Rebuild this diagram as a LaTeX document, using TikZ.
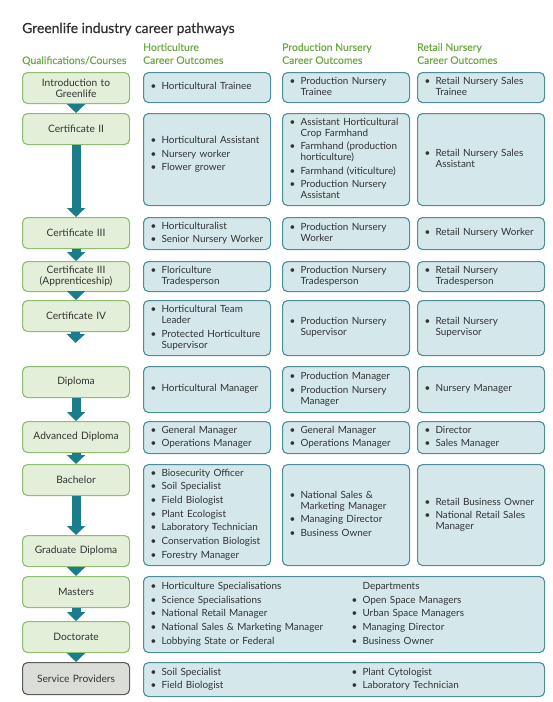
\documentclass[tikz,border=0pt]{standalone}
\usepackage{fontspec}
\setmainfont{Lato}
\newfontfamily\headfont{Lato}[FakeBold=0.5]
\usetikzlibrary{arrows.meta}

\definecolor{leaf}{HTML}{E3EFD9}
\definecolor{leafline}{HTML}{8DBD70}
\definecolor{sky}{HTML}{D4E7EB}
\definecolor{skyline}{HTML}{4E8E9B}
\definecolor{stone}{HTML}{DBDED8}
\definecolor{stoneline}{HTML}{5B5E58}
\definecolor{pipe}{HTML}{1B7D8C}
\definecolor{headgreen}{HTML}{6DAA45}
\definecolor{ink}{HTML}{333333}

\newcommand{\bl}{\makebox[11pt][l]{\textbullet}}
\newenvironment{jobs}{\begin{tabular}{@{}l@{}l@{}}}{\end{tabular}}

\begin{document}
\begin{tikzpicture}[x=1pt,y=-1pt,font=\fontsize{9.9}{11}\selectfont,text=ink]
   \tikzstyle{qual}=[draw=leafline,fill=leaf,line width=1.1pt,rounded corners=5pt,minimum width=107pt,minimum height=31pt,text width=103pt,align=center,anchor=north west,inner sep=0pt,font=\fontsize{10.2}{11}\selectfont]
   \tikzstyle{outc}=[draw=skyline,fill=sky,line width=1.1pt,rounded corners=5pt,text width=113pt,inner xsep=7pt,inner ysep=2pt,align=left,anchor=north west]
   \tikzstyle{head}=[text=headgreen,font=\headfont\fontsize{10.4}{13}\selectfont,align=left,anchor=north west,inner sep=0pt]
   \tikzstyle{flow}=[draw=pipe,line width=9pt,-{Triangle[width=18pt,length=9pt]}]
   \useasboundingbox (0,0) rectangle (552,702);

   % title and column heads
   \node[anchor=base west,inner sep=0pt,font=\headfont\fontsize{13.9}{15}\selectfont,text=ink] (title) at (22,33) {Greenlife industry career pathways};
   \node[head,anchor=base west] (hdQual) at (22,64) {Qualifications/Courses};
   \node[head] (hdHort) at (143,43) {Horticulture\\Career Outcomes};
   \node[head] (hdProd) at (282,43) {Production Nursery\\Career Outcomes};
   \node[head] (hdRet)  at (417,43) {Retail Nursery\\Career Outcomes};

   % qualifications
   \node[qual] (qIntro)   at (22,72)  {Introduction to\\Greenlife};
   \node[qual] (qCertII)  at (22,113) {Certificate II\\[-11pt]\mbox{}};
   \node[qual] (qCertIII) at (22,217) {Certificate III};
   \node[qual,minimum height=30pt] (qAppr) at (22,261) {Certificate III\\(Apprenticeship)};
   \node[qual] (qCertIV)  at (22,300) {Certificate IV};
   \node[qual] (qDip)     at (22,366) {Diploma};
   \node[qual] (qAdvDip)  at (22,421) {Advanced Diploma};
   \node[qual] (qBach)    at (22,464) {Bachelor};
   \node[qual] (qGradDip) at (22,535) {Graduate Diploma};
   \node[qual] (qMast)    at (22,576) {Masters};
   \node[qual] (qDoc)     at (22,621) {Doctorate};
   \node[qual,draw=stoneline,fill=stone,minimum height=32pt] (qServ) at (22,662) {Service Providers};
   \coordinate (cIVend) at (75.5,343);

   % horticulture
   \node[outc,minimum height=30pt]  (hIntro)   at (143,72)  {\begin{jobs}\bl & Horticultural Trainee\end{jobs}};
   \node[outc,minimum height=92pt]  (hCertII)  at (143,113) {\begin{jobs}\bl & Horticultural Assistant\\[2.5pt] \bl & Nursery worker\\[2.5pt] \bl & Flower grower\end{jobs}\\[8pt]\mbox{}};
   \node[outc,minimum height=32pt]  (hCertIII) at (143,217) {\begin{jobs}\bl & Horticulturalist\\[2.5pt] \bl & Senior Nursery Worker\end{jobs}};
   \node[outc,minimum height=30pt]  (hAppr)    at (143,261) {\begin{jobs}\bl & Floriculture\\ & Tradesperson\end{jobs}};
   \node[outc,minimum height=55pt]  (hCertIV)  at (143,300) {\begin{jobs}\bl & Horticultural Team\\ & Leader\\[2.5pt] \bl & Protected Horticulture\\ & Supervisor\end{jobs}};
   \node[outc,minimum height=46pt]  (hDip)     at (143,366) {\begin{jobs}\bl & Horticultural Manager\end{jobs}};
   \node[outc,minimum height=32pt]  (hAdvDip)  at (143,421) {\begin{jobs}\bl & General Manager\\[2.5pt] \bl & Operations Manager\end{jobs}};
   \node[outc,minimum height=101pt] (hBach)    at (143,464) {\begin{jobs}\bl & Biosecurity Officer\\[2.7pt] \bl & Soil Specialist\\[2.7pt] \bl & Field Biologist\\[2.7pt] \bl & Plant Ecologist\\[2.7pt] \bl & Laboratory Technician\\[2.7pt] \bl & Conservation Biologist\\[2.7pt] \bl & Forestry Manager\end{jobs}};

   % production nursery
   \node[outc,minimum height=30pt]  (pIntro)   at (282,72)  {\begin{jobs}\bl & Production Nursery\\ & Trainee\end{jobs}};
   \node[outc,minimum height=92pt]  (pCertII)  at (282,113) {\begin{jobs}\bl & Assistant Horticultural\\ & Crop Farmhand\\[2.5pt] \bl & Farmhand (production\\ & horticulture)\\[2.5pt] \bl & Farmhand (viticulture)\\[2.5pt] \bl & Production Nursery\\ & Assistant\end{jobs}};
   \node[outc,minimum height=32pt]  (pCertIII) at (282,217) {\begin{jobs}\bl & Production Nursery\\ & Worker\end{jobs}};
   \node[outc,minimum height=30pt]  (pAppr)    at (282,261) {\begin{jobs}\bl & Production Nursery\\ & Tradesperson\end{jobs}};
   \node[outc,minimum height=55pt]  (pCertIV)  at (282,300) {\begin{jobs}\bl & Production Nursery\\ & Supervisor\end{jobs}};
   \node[outc,minimum height=46pt]  (pDip)     at (282,366) {\begin{jobs}\bl & Production Manager\\[2.5pt] \bl & Production Nursery\\ & Manager\end{jobs}};
   \node[outc,minimum height=32pt]  (pAdvDip)  at (282,421) {\begin{jobs}\bl & General Manager\\[2.5pt] \bl & Operations Manager\end{jobs}};
   \node[outc,minimum height=101pt] (pBach)    at (282,464) {\begin{jobs}\bl & National Sales \&\\ & Marketing Manager\\[2.5pt] \bl & Managing Director\\[2.5pt] \bl & Business Owner\end{jobs}};

   % retail nursery
   \node[outc,minimum height=30pt]  (rIntro)   at (417,72)  {\begin{jobs}\bl & Retail Nursery Sales\\ & Trainee\end{jobs}};
   \node[outc,minimum height=92pt]  (rCertII)  at (417,113) {\begin{jobs}\bl & Retail Nursery Sales\\ & Assistant\end{jobs}};
   \node[outc,minimum height=32pt]  (rCertIII) at (417,217) {\begin{jobs}\bl & Retail Nursery Worker\end{jobs}};
   \node[outc,minimum height=30pt]  (rAppr)    at (417,261) {\begin{jobs}\bl & Retail Nursery\\ & Tradesperson\end{jobs}};
   \node[outc,minimum height=55pt]  (rCertIV)  at (417,300) {\begin{jobs}\bl & Retail Nursery\\ & Supervisor\end{jobs}};
   \node[outc,minimum height=46pt]  (rDip)     at (417,366) {\begin{jobs}\bl & Nursery Manager\end{jobs}};
   \node[outc,minimum height=32pt]  (rAdvDip)  at (417,421) {\begin{jobs}\bl & Director\\[2.5pt] \bl & Sales Manager\end{jobs}};
   \node[outc,minimum height=101pt] (rBach)    at (417,464) {\begin{jobs}\bl & Retail Business Owner\\[2.5pt] \bl & National Retail Sales\\ & Manager\end{jobs}};

   % higher degrees and service providers
   \node[outc,text width=387pt,minimum height=76pt] (mHigher) at (143,576) {\makebox[201pt][l]{\begin{jobs}\bl & Horticulture Specialisations\\[2.7pt] \bl & Science Specialisations\\[2.7pt] \bl & National Retail Manager\\[2.7pt] \bl & National Sales \& Marketing Manager\\[2.7pt] \bl & Lobbying State or Federal\end{jobs}}\begin{jobs} & Departments\\[2.7pt] \bl & Open Space Managers\\[2.7pt] \bl & Urban Space Managers\\[2.7pt] \bl & Managing Director\\[2.7pt] \bl & Business Owner\end{jobs}};
   \node[outc,text width=387pt,minimum height=34pt] (sServ) at (143,662) {\makebox[201pt][l]{\begin{jobs}\bl & Soil Specialist\\[2.5pt] \bl & Field Biologist\end{jobs}}\begin{jobs}\bl & Plant Cytologist\\[2.5pt] \bl & Laboratory Technician\end{jobs}};

   \path
     (qIntro)   edge [flow] (qCertII)
     (qCertII)  edge [flow] (qCertIII)
     (qCertIII) edge [flow] (qAppr)
     (qAppr)    edge [flow] (qCertIV)
     (qCertIV)  edge [flow] (cIVend)
     (qDip)     edge [flow] (qAdvDip)
     (qAdvDip)  edge [flow] (qBach)
     (qBach)    edge [flow] (qGradDip)
     (qGradDip) edge [flow] (qMast)
     (qMast)    edge [flow] (qDoc)
     (qDoc)     edge [flow] (qServ);
\end{tikzpicture}
\end{document}
